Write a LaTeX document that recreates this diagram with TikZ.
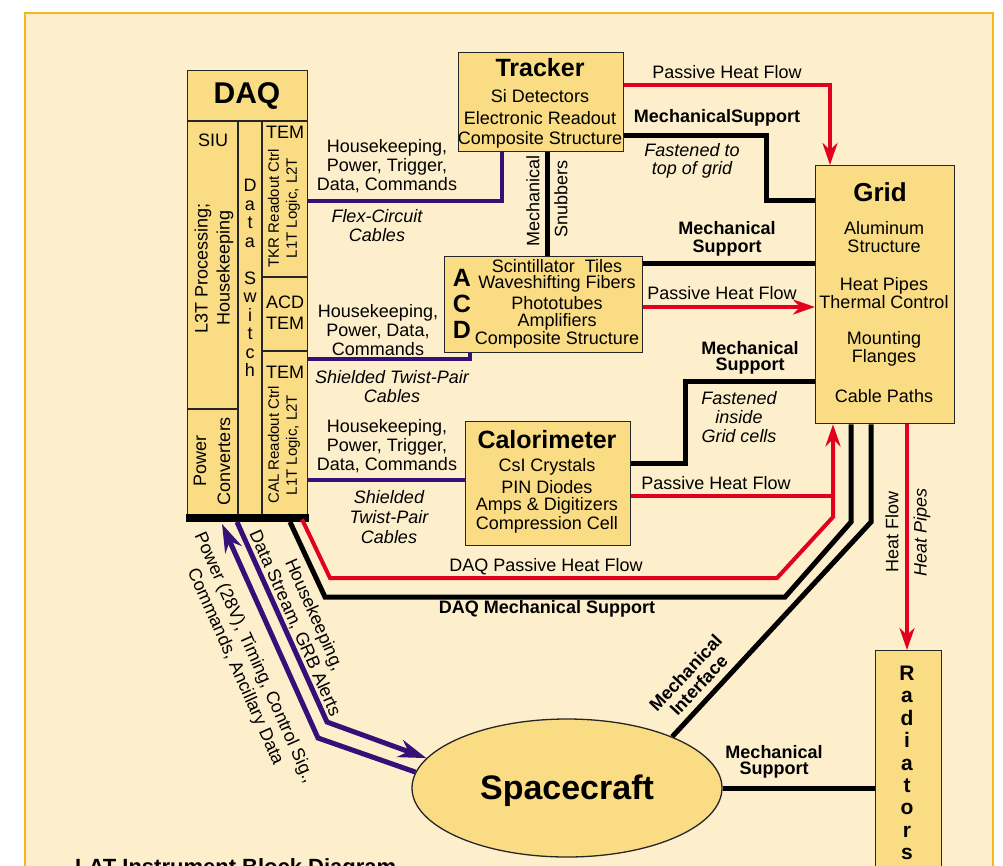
\documentclass[tikz,border=0pt]{standalone}
\usepackage{fontspec}
\setmainfont{Liberation Sans}
\usetikzlibrary{arrows.meta,shapes.geometric}
\definecolor{bg}{HTML}{FDEFCB}
\definecolor{boxc}{HTML}{FADC84}
\definecolor{framec}{HTML}{F6B619}
\definecolor{heat}{HTML}{E1001E}
\definecolor{cable}{HTML}{341078}
\newcommand\fsz[2]{\fontsize{#1}{#2}\selectfont}
\tikzset{
  box/.style={draw=black!85, line width=1.3pt, fill=boxc, inner sep=0pt, anchor=north west},
  txt/.style={font=\fsz{18}{19}, align=center, inner sep=0pt},
  btxt/.style={font=\fsz{18}{18}\bfseries, align=center, inner sep=0pt},
  itxt/.style={font=\fsz{18}{19}\itshape, align=center, inner sep=0pt},
  ttl/.style={font=\fsz{25}{25}\bfseries, align=center, inner sep=0pt},
  mech/.style={draw=black, line width=5pt},
  heatl/.style={draw=heat, line width=4pt},
  heatarr/.style={draw=heat, line width=4pt, -{Stealth[length=22pt,width=15pt,inset=7pt]}},
  cab/.style={draw=cable, line width=4pt},
  cabarr/.style={draw=cable, line width=5pt, -{Stealth[length=28pt,width=18pt,inset=9pt]}},
}
\begin{document}
\begin{tikzpicture}[x=1pt,y=-1pt]
\clip (0,0) rectangle (1003,865);
\fill[white] (0,0) rectangle (1003,865);
\draw[fill=bg, draw=framec, line width=2pt] (25,13) rectangle (993,880);

% ---------- boxes ----------
\node[box, minimum width=120pt, minimum height=448pt] (daq) at (187,70) {};
\draw[black!85, line width=1.3pt] (daq.west |- 0,121) -- (daq.east |- 0,121);
\draw[black!85, line width=1.3pt] (238,121) -- (238,518);
\draw[black!85, line width=1.3pt] (262,121) -- (262,518);
\draw[black!85, line width=1.3pt] (187,409) -- (238,409);
\draw[black!85, line width=1.3pt] (262,277) -- (307,277);
\draw[black!85, line width=1.3pt] (262,351) -- (307,351);
\fill[black] (185.5,514) rectangle (308.5,522);

\node[box, minimum width=165pt, minimum height=99pt] (trk) at (458,52) {};
\node[box, minimum width=198pt, minimum height=96pt] (acd) at (444,256) {};
\node[box, minimum width=165pt, minimum height=124pt] (cal) at (465,421) {};
\node[box, minimum width=139pt, minimum height=258pt] (grid) at (815,165) {};
\node[box, minimum width=66pt, minimum height=240pt] (rad) at (875,650) {};
\node[ellipse, draw=black!85, line width=1.3pt, fill=boxc, minimum width=310pt, minimum height=138pt, inner sep=0pt] (sc) at (567,788) {};

% ---------- DAQ texts ----------
\node[txt, font=\fsz{30}{30}\bfseries] (daqt) at (247,96) {DAQ};
\node[txt] (siu) at (213,140) {SIU};
\node[txt, font=\fsz{18}{22}, rotate=90] (l3t) at (214,268) {L3T Processing;\\Housekeeping};
\node[txt, font=\fsz{18}{24}, rotate=90] (pconv) at (212,461) {Power\\Converters};
\foreach \c [count=\i] in {D,a,t,a,{},S,w,i,t,c,h}
  \node[txt, anchor=base] (ds\i) at (250,{191.5+18.5*(\i-1)}) {\c};
\node[txt] (tem1) at (285,132) {TEM};
\node[txt, font=\fsz{15}{18}, rotate=90] (tkrro) at (284,208) {TKR Readout Ctrl\\L1T Logic, L2T};
\node[txt, font=\fsz{18}{21}] (acdtem) at (285,313) {ACD\\TEM};
\node[txt] (tem2) at (285,372) {TEM};
\node[txt, font=\fsz{15}{18}, rotate=90] (calro) at (284,445) {CAL Readout Ctrl\\L1T Logic, L2T};

% ---------- Tracker ----------
\node[ttl] (trkt) at (540,68) {Tracker};
\node[txt] (trk1) at (540,96) {Si Detectors};
\node[txt] (trk2) at (540,118) {Electronic Readout};
\node[txt] (trk3) at (540,140) {Composite Structure};

% ---------- ACD ----------
\node[ttl] (acdA) at (462,278) {A};
\node[ttl] (acdC) at (462,304) {C};
\node[ttl] (acdD) at (462,330) {D};
\node[txt] (acd1) at (557,266) {Scintillator\ \ Tiles};
\node[txt] (acd2) at (557,284) {Waveshifting Fibers};
\node[txt] (acd3) at (557,303) {Phototubes};
\node[txt] (acd4) at (557,322) {Amplifiers};
\node[txt] (acd5) at (557,340) {Composite Structure};

% ---------- Calorimeter ----------
\node[ttl] (calt) at (547,440) {Calorimeter};
\node[txt] (cal1) at (547,467) {CsI Crystals};
\node[txt] (cal2) at (547,487) {PIN Diodes};
\node[txt] (cal3) at (547,506) {Amps \& Digitizers};
\node[txt] (cal4) at (547,525) {Compression Cell};

% ---------- Grid ----------
\node[txt, font=\fsz{26}{26}\bfseries] (gridt) at (880,192) {Grid};
\node[txt, font=\fsz{18}{18.5}] (grid1) at (884,237) {Aluminum\\Structure};
\node[txt, font=\fsz{18}{18.5}] (grid2) at (884,293) {Heat Pipes\\Thermal Control};
\node[txt, font=\fsz{18}{18.5}] (grid3) at (884,349) {Mounting\\Flanges};
\node[txt] (grid4) at (884,396) {Cable Paths};

% ---------- Radiators ----------
\foreach \c [count=\i] in {R,a,d,i,a,t,o,r,s}
  \node[txt, font=\fsz{21}{21}\bfseries, anchor=base] (rd\i) at (907,{680.5+22.4*(\i-1)}) {\c};

% ---------- Spacecraft ----------
\node[txt, font=\fsz{34}{34}\bfseries] (sct) at (567,791) {Spacecraft};

% ---------- connectors ----------
% cables
\draw[cab] (daq.east |- 0,201) -| (502,0 |- trk.south);
\draw[cab] (daq.east |- 0,359) -| (470,0 |- acd.south);
\draw[cab] (daq.east |- 0,480) -- (cal.west |- 0,480);
% tracker
\draw[mech] (547,0 |- trk.south) -- (547,0 |- acd.north);
\draw[heatarr] (trk.east |- 0,85) -| (830,0 |- grid.north);
\draw[mech] (trk.east |- 0,135) -- (766,135) -- (766,200) -- (grid.west |- 0,200);
% ACD
\draw[mech] (acd.east |- 0,263) -- (grid.west |- 0,263);
\draw[heatarr] (acd.east |- 0,307) -- (grid.west |- 0,307);
% Calorimeter
\draw[mech] (cal.east |- 0,463) -- (685,463) -- (685,381) -- (grid.west |- 0,381);
\draw[heatl] (cal.east |- 0,496) -- (835,496);
% DAQ
\coordinate (dh1) at (330,578);
\coordinate (dh2) at (777,578);
\coordinate (dh3) at (833,517);
\draw[heatarr] (302,0 |- daq.south) -- (dh1) -- (dh2) -- (dh3) -- (833,0 |- grid.south);
\coordinate (dm1) at (325,597);
\coordinate (dm2) at (785,597);
\coordinate (dm3) at (851,522);
\draw[mech] (290,522) -- (dm1) -- (dm2) -- (dm3) -- (851,0 |- grid.south);
% interface
\coordinate (mi1) at (871,522);
\draw[mech] (871,0 |- grid.south) -- (mi1) -- (sc.26);
\draw[heatarr] (907,0 |- grid.south) -- (907,0 |- rad.north);
\draw[mech] (sc.east) -- (sc.east -| rad.west);
% spacecraft cables
\coordinate (p1) at (318,738);
\draw[cabarr] (sc.174) -- (p1) -- (222,524);
\coordinate (p2) at (327,722);
\draw[cabarr] (237,522) -- (p2) -- (sc.168);

% ---------- labels ----------
\node[txt] (l1) at (387,166) {Housekeeping,\\Power, Trigger,\\Data, Commands};
\node[itxt] (l2) at (377,226) {Flex-Circuit\\Cables};
\node[txt, rotate=90] (l3) at (533,201) {Mechanical};
\node[txt, rotate=90] (l4) at (561,199) {Snubbers};
\node[txt] (l5) at (727,72) {Passive Heat Flow};
\node[btxt] (l6) at (717,118) {MechanicalSupport};
\node[itxt, font=\fsz{18}{18}\itshape] (l7) at (692,161) {Fastened to\\top of grid};
\node[btxt] (l8) at (727,239) {Mechanical\\Support};
\node[txt] (l9) at (722,293) {Passive Heat Flow};
\node[txt] (l10) at (378,330) {Housekeeping,\\Power, Data,\\Commands};
\node[itxt] (l11) at (392,387) {Shielded Twist-Pair\\Cables};
\node[btxt, font=\fsz{18}{16}\bfseries] (l12) at (750,358) {Mechanical\\Support};
\node[itxt] (l13) at (739,417) {Fastened\\inside\\Grid cells};
\node[txt] (l14) at (387,446) {Housekeeping,\\Power, Trigger,\\Data, Commands};
\node[itxt, font=\fsz{18}{20}\itshape] (l15) at (389,517) {Shielded\\Twist-Pair\\Cables};
\node[txt] (l16) at (716,483) {Passive Heat Flow};
\node[txt] (l17) at (546,567) {DAQ Passive Heat Flow};
\node[btxt] (l18) at (547,609) {DAQ Mechanical Support};
\node[txt, rotate=90] (l19) at (892,532) {Heat Flow};
\node[itxt, rotate=90] (l20) at (922,532) {Heat Pipes};
\node[btxt, rotate=47] (l21) at (692,679) {Mechanical\\Interface};
\node[btxt, font=\fsz{18}{15.5}\bfseries] (l22) at (774,762) {Mechanical\\Support};
\node[txt, font=\fsz{18}{21}, rotate=-66] (l23) at (304.5,619) {Housekeeping,\\Data Stream, GRB Alerts};
\node[txt, font=\fsz{18}{21}, rotate=-66] (l24) at (244.5,662.5) {Power (28V), Timing, Control Sig.,\\Commands, Ancillary Data};
\node[font=\fsz{22}{22}\bfseries, anchor=base west, inner sep=0pt] (title) at (75,874) {LAT Instrument Block Diagram};
\end{tikzpicture}
\end{document}
